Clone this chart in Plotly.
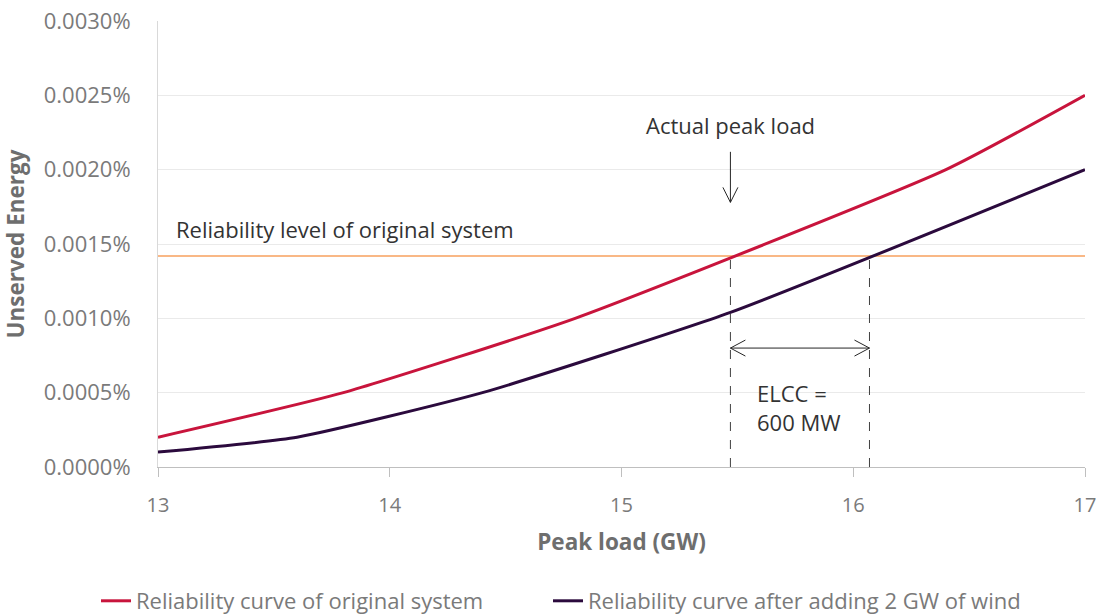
import plotly.graph_objects as go

# ---- data ----
load_original = [13.0, 13.8, 14.8, 16.4, 17.0]
ue_original = [0.0002, 0.0005, 0.0010, 0.0020, 0.0025]
load_wind = [13.0, 13.6, 14.4, 15.47, 17.0]
ue_wind = [0.0001, 0.0002, 0.0005, 0.00104, 0.0020]
reliability_level = 0.00142
actual_peak = 15.47
elcc_gw = 0.6
elcc_arrow_level = 0.0008
x_ticks = [13, 14, 15, 16, 17]
y_ticks = [0.0, 0.0005, 0.0010, 0.0015, 0.0020, 0.0025, 0.0030]
y_tick_labels = ["0.0000%", "0.0005%", "0.0010%", "0.0015%", "0.0020%", "0.0025%", "0.0030%"]

X_RANGE = [13, 17]
Y_RANGE = [0, 0.003]
W, H = 1096, 615
M = dict(l=158, r=11, t=21, b=148)
PW = W - M["l"] - M["r"]
PH = H - M["t"] - M["b"]
dx = (X_RANGE[1] - X_RANGE[0]) / PW   # data units per px
dy = (Y_RANGE[1] - Y_RANGE[0]) / PH

RED = "#C8143C"
DARK = "#2B0A3D"
ORANGE = "#F7A05E"
FONT = "Open Sans"
FS = 22
FT = 22.5

fig = go.Figure()
fig.add_trace(go.Scatter(x=load_original, y=ue_original, mode="lines",
                         name="Reliability curve of original system", legend="legend",
                         line=dict(color=RED, width=3, shape="spline", smoothing=0.5)))
fig.add_trace(go.Scatter(x=load_wind, y=ue_wind, mode="lines",
                         name="Reliability curve after adding 2 GW of wind", legend="legend2",
                         line=dict(color=DARK, width=3, shape="spline", smoothing=0.5)))

shapes = []
shapes.append(dict(type="line", xref="x", yref="y", x0=X_RANGE[0], x1=X_RANGE[1],
                   y0=reliability_level, y1=reliability_level,
                   line=dict(color=ORANGE, width=1.5), layer="below"))
for xv in [actual_peak, actual_peak + elcc_gw]:
    shapes.append(dict(type="line", xref="x", yref="y", x0=xv, x1=xv,
                       y0=0, y1=reliability_level,
                       line=dict(color="#404040", width=1, dash="dash")))

ARR = "#262626"
y_top = 0.00212
y_bot = 0.00178
shapes.append(dict(type="line", xref="x", yref="y", x0=actual_peak, x1=actual_peak,
                   y0=y_top, y1=y_bot, line=dict(color=ARR, width=1)))
hw, hl = 7.5 * dx, 15 * dy
shapes.append(dict(type="path", xref="x", yref="y",
                   path=f"M {actual_peak - hw} {y_bot + hl} L {actual_peak} {y_bot} L {actual_peak + hw} {y_bot + hl}",
                   line=dict(color=ARR, width=1)))
xa, xb = actual_peak, actual_peak + elcc_gw
shapes.append(dict(type="line", xref="x", yref="y", x0=xa, x1=xb,
                   y0=elcc_arrow_level, y1=elcc_arrow_level, line=dict(color=ARR, width=1)))
ahl, ahw = 15 * dx, 8 * dy
shapes.append(dict(type="path", xref="x", yref="y",
                   path=f"M {xa + ahl} {elcc_arrow_level + ahw} L {xa} {elcc_arrow_level} L {xa + ahl} {elcc_arrow_level - ahw}",
                   line=dict(color=ARR, width=1)))
shapes.append(dict(type="path", xref="x", yref="y",
                   path=f"M {xb - ahl} {elcc_arrow_level + ahw} L {xb} {elcc_arrow_level} L {xb - ahl} {elcc_arrow_level - ahw}",
                   line=dict(color=ARR, width=1)))

TXT = "#333333"
annots = [
    dict(x=X_RANGE[0] + 16 * dx, y=0.0016, text="Reliability level of original system",
         xanchor="left", yanchor="middle", showarrow=False,
         font=dict(family=FONT, size=FS, color=TXT)),
    dict(x=actual_peak, y=0.0023, text="Actual peak load", xanchor="center", yanchor="middle",
         showarrow=False, font=dict(family=FONT, size=FS, color=TXT)),
    dict(x=actual_peak + 25 * dx, y=0.0005, text="ELCC =", xanchor="left", yanchor="middle",
         showarrow=False, font=dict(family=FONT, size=FS, color=TXT)),
    dict(x=actual_peak + 25 * dx, y=0.0003, text="600 MW", xanchor="left", yanchor="middle",
         showarrow=False, font=dict(family=FONT, size=FS, color=TXT)),
]

TICK = "#7A7A7A"
leg_common = dict(orientation="h", xref="container", yref="container", xanchor="left",
                  y=1 - 601 / H, yanchor="middle",
                  font=dict(family=FONT, size=FS, color=TICK), bgcolor="rgba(0,0,0,0)")
fig.update_layout(
    width=W, height=H, margin=dict(M, autoexpand=False),
    paper_bgcolor="white", plot_bgcolor="white",
    font=dict(family=FONT, size=FS, color=TICK),
    shapes=shapes, annotations=annots,
    showlegend=True,
    legend=dict(leg_common, x=96 / W),
    legend2=dict(leg_common, x=548 / W),
    xaxis=dict(range=X_RANGE, tickvals=x_ticks, showgrid=False, zeroline=False,
               showline=True, linecolor="#BFBFBF", linewidth=1, automargin=False,
               ticks="outside", ticklen=9, tickcolor="#BFBFBF", ticklabeloverflow="allow",
               tickfont=dict(family=FONT, size=20, color=TICK), ticklabelstandoff=11,
               title=dict(text="<b>Peak load (GW)</b>", standoff=17,
                          font=dict(family=FONT, size=FT, color="#6E6E6E"))),
    yaxis=dict(range=Y_RANGE, tickvals=y_ticks, ticktext=y_tick_labels,
               showgrid=True, gridcolor="#EAEAEA", gridwidth=1, zeroline=False,
               showline=True, linecolor="#D9D9D9", linewidth=1, ticks="", automargin=False,
               ticklabeloverflow="allow",
               tickfont=dict(family=FONT, size=FS, color=TICK), ticklabelstandoff=22,
               title=dict(text="<b>Unserved Energy</b>", standoff=12,
                          font=dict(family=FONT, size=FT, color="#6E6E6E"))),
)

fig.write_html("out.html", config={"displayModeBar": False},
               post_script="document.body.style.margin='0px';")
